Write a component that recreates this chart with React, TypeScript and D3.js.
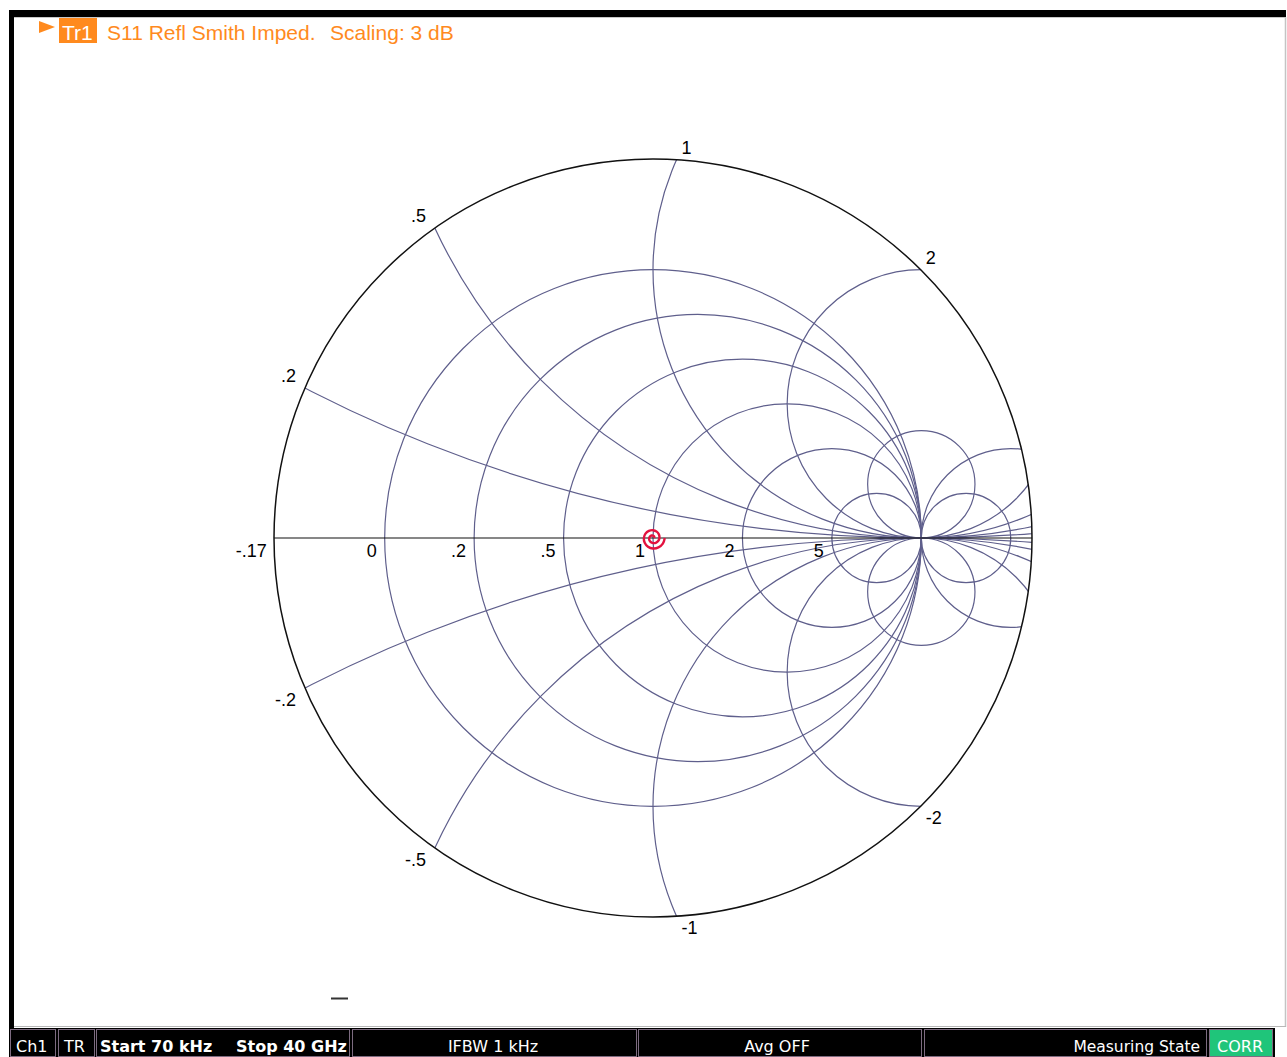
import React from 'react';
import * as d3 from 'd3';

// ---- data ----
const scalingDb = 3;
const resistanceValues = [0, 0.2, 0.5, 1, 2, 5];
const negativeResistanceValues = [-4, -7];
const reactanceValues = [0.2, 0.5, 1, 2, 5, -0.2, -0.5, -1, -2, -5];
const axisLabelValues = [-0.17, 0, 0.2, 0.5, 1, 2, 5];
const axisLabelTexts = ['-.17', '0', '.2', '.5', '1', '2', '5'];
const rimLabelValues = [0.2, 0.5, 1, 2, -0.2, -0.5, -1, -2];
const rimLabelTexts = ['.2', '.5', '1', '2', '-.2', '-.5', '-1', '-2'];
// S11 trace (reflection coefficient, real / imaginary)
const traceRe = [0.004, 0.0049, 0.0037, 0.0, -0.0053, -0.0107, -0.014, -0.0136, -0.0087, 0.0, 0.0103, 0.0193, 0.024, 0.0222, 0.0137, 0.0, -0.0153, -0.028, -0.034, -0.0309, -0.0187, 0.0, 0.0203, 0.0367, 0.044];
const traceIm = [0.0, 0.0028, 0.0063, 0.009, 0.0092, 0.0062, 0.0, -0.0078, -0.015, -0.019, -0.0179, -0.0112, 0.0, 0.0128, 0.0237, 0.029, 0.0266, 0.0162, 0.0, -0.0178, -0.0323, -0.039, -0.0352, -0.0212, 0.0];
const traceName = 'Tr1';
const traceTitle = 'S11 Refl Smith Imped.';
const scalingText = 'Scaling: 3 dB';
const statusTexts = ['Ch1', 'TR', 'Start 70 kHz', 'Stop 40 GHz', 'IFBW 1 kHz', 'Avg OFF', 'Measuring State', 'CORR'];

export default function App() {
  const W = 1287, H = 1057;
  const cx = 653, cy = 538, R = 379;
  const gMax = Math.pow(10, scalingDb / 20);
  const sx = d3.scaleLinear().domain([-gMax, gMax]).range([cx - R, cx + R]);
  const sy = d3.scaleLinear().domain([-gMax, gMax]).range([cy + R, cy - R]);
  const k = R / gMax;
  const gridColor = '#5f5f8c';
  const orange = '#ff8a1e';
  const labelFont = "'Liberation Sans', Arial, sans-serif";
  const statusFont = "'DejaVu Sans', sans-serif";

  const resCircles = resistanceValues.concat(negativeResistanceValues).map((r) => ({
    u: r / (1 + r),
    rad: 1 / Math.abs(1 + r),
  }));
  const reactCircles = reactanceValues.map((x) => ({ u: 1, v: 1 / x, rad: 1 / Math.abs(x) }));

  // intersection of reactance circle with rim |G| = gMax (left/upper point)
  const rimPoint = (x: number) => {
    const a = 2, b = 2 / x, c = gMax * gMax + 1;
    const n = Math.sqrt(a * a + b * b);
    const p0u = (a * c) / (n * n), p0v = (b * c) / (n * n);
    const d = c / n;
    const h = Math.sqrt(Math.max(0, gMax * gMax - d * d));
    const du = -b / n, dv = a / n;
    const p1 = [p0u + h * du, p0v + h * dv];
    const p2 = [p0u - h * du, p0v - h * dv];
    return p1[0] < p2[0] ? p1 : p2;
  };

  const tracePts: [number, number][] = traceRe.map((re, i) => [re, traceIm[i]]);
  const line = d3
    .line<[number, number]>()
    .x((d) => sx(d[0]))
    .y((d) => sy(d[1]))
    .curve(d3.curveCatmullRom);

  const cells = [
    { x0: 10, x1: 55 },
    { x0: 58, x1: 94 },
    { x0: 96, x1: 349 },
    { x0: 352, x1: 636 },
    { x0: 638, x1: 921 },
    { x0: 924, x1: 1206 },
  ];
  const statusY0 = 1029, statusY1 = 1056, statusBase = 1052;

  return (
    <svg width={W} height={H} style={{ position: 'absolute', left: 0, top: 0, display: 'block', background: '#fff' }}>
      <defs>
        <clipPath id="smithClip">
          <circle cx={cx} cy={cy} r={R} />
        </clipPath>
      </defs>
      <rect x={0} y={0} width={W} height={H} fill="#fff" />

      {/* frame */}
      <rect x={9} y={10} width={1277} height={7} fill="#000" />
      <line x1={14} x2={1285} y1={17.5} y2={17.5} stroke="#c8c8c8" strokeWidth={1} />
      <rect x={9} y={10} width={5} height={1019} fill="#000" />
      <line x1={1285.5} x2={1285.5} y1={17} y2={1027} stroke="#c4c4c4" strokeWidth={1.5} />
      <line x1={14} x2={1286} y1={1026.5} y2={1026.5} stroke="#b8b8b8" strokeWidth={1} />

      {/* header */}
      <path d="M39,21 L55,27 L39,33 Z" fill={orange} />
      <rect x={59} y={18} width={38} height={25} fill={orange} />
      <text x={62} y={40} fontFamily={labelFont} fontSize={21} fill="#fff">{traceName}</text>
      <text x={107} y={40} fontFamily={labelFont} fontSize={21} fill={orange}>{traceTitle}</text>
      <text x={330} y={40} fontFamily={labelFont} fontSize={21} fill={orange}>{scalingText}</text>

      {/* grid */}
      <g clipPath="url(#smithClip)" fill="none" stroke={gridColor} strokeWidth={1.2}>
        {resCircles.map((c, i) => (
          <circle key={'r' + i} cx={sx(c.u)} cy={sy(0)} r={c.rad * k} />
        ))}
        {reactCircles.map((c, i) => (
          <circle key={'x' + i} cx={sx(c.u)} cy={sy(c.v)} r={c.rad * k} />
        ))}
      </g>
      <line x1={sx(-gMax)} x2={sx(gMax)} y1={sy(0)} y2={sy(0)} stroke="#111" strokeWidth={1.2} />
      <circle cx={cx} cy={cy} r={R} fill="none" stroke="#111" strokeWidth={1.5} />

      {/* axis labels */}
      {axisLabelValues.map((r, i) => (
        <text key={'al' + i} x={sx((r - 1) / (r + 1)) - 8} y={cy + 19} textAnchor="end" fontFamily={labelFont} fontSize={18} fill="#000">
          {axisLabelTexts[i]}
        </text>
      ))}
      {rimLabelValues.map((x, i) => {
        const p = rimPoint(x);
        const px = sx(p[0]), py = sy(p[1]);
        const left = p[0] < 0;
        const top = p[1] > 0;
        return (
          <text key={'rl' + i} x={left ? px - 9 : px + 5} y={top ? py - 6 : py + 18} textAnchor={left ? 'end' : 'start'} fontFamily={labelFont} fontSize={18} fill="#000">
            {rimLabelTexts[i]}
          </text>
        );
      })}

      {/* trace */}
      <path d={line(tracePts) || ''} fill="none" stroke="#e3123f" strokeWidth={2.4} />

      {/* small marker dash */}
      <line x1={331} x2={348} y1={998.5} y2={998.5} stroke="#333" strokeWidth={2} />

      {/* status bar */}
      <rect x={9} y={1028} width={1266} height={29} fill="#000" />
      {cells.map((c, i) => (
        <rect key={'c' + i} x={c.x0 + 0.5} y={statusY0 + 0.5} width={c.x1 - c.x0} height={statusY1 - statusY0} fill="#000" stroke="#7d6b80" strokeWidth={1} />
      ))}
      <rect x={1209.5} y={statusY0 + 0.5} width={63} height={statusY1 - statusY0} fill="#1fc57a" stroke="#7d6b80" strokeWidth={1} />
      <text x={16} y={statusBase} fontFamily={statusFont} fontSize={16} fill="#fff">{statusTexts[0]}</text>
      <text x={64} y={statusBase} fontFamily={statusFont} fontSize={16} fill="#fff">{statusTexts[1]}</text>
      <text x={100} y={statusBase} fontFamily={statusFont} fontSize={16} fontWeight="bold" fill="#fff">{statusTexts[2]}</text>
      <text x={236} y={statusBase} fontFamily={statusFont} fontSize={16} fontWeight="bold" fill="#fff">{statusTexts[3]}</text>
      <text x={493} y={statusBase} textAnchor="middle" fontFamily={statusFont} fontSize={16} fill="#fff">{statusTexts[4]}</text>
      <text x={777} y={statusBase} textAnchor="middle" fontFamily={statusFont} fontSize={16} fill="#fff">{statusTexts[5]}</text>
      <text x={1200} y={statusBase} textAnchor="end" fontFamily={statusFont} fontSize={15.5} fill="#fff">{statusTexts[6]}</text>
      <text x={1240} y={statusBase} textAnchor="middle" fontFamily={statusFont} fontSize={16} fill="#fff">{statusTexts[7]}</text>
    </svg>
  );
}
